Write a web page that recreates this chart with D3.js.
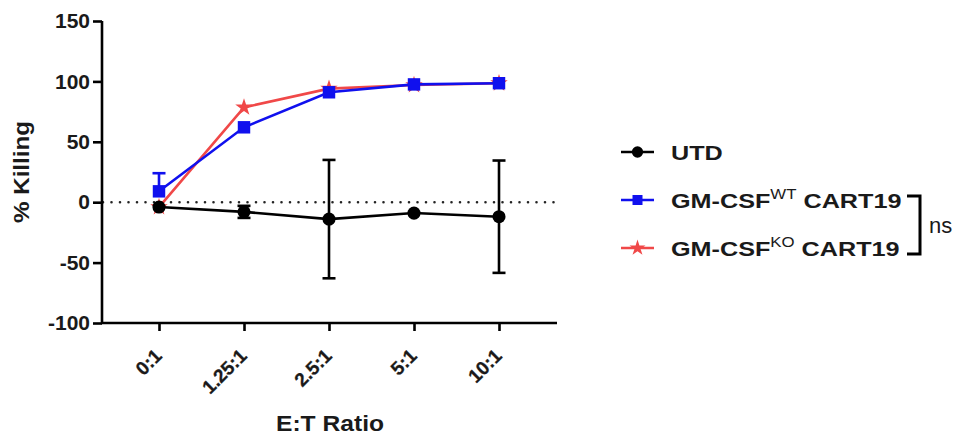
<!DOCTYPE html>
<html>
<head>
<meta charset="utf-8">
<script src="https://cdn.jsdelivr.net/npm/d3@7"></script>
<style>
body{margin:0;background:#fff;}
text{font-family:"Liberation Sans",Arial,sans-serif;}
</style>
</head>
<body>
<div id="chart"></div>
<script>
// data
var ratios = ["0:1","1.25:1","2.5:1","5:1","10:1"];
var utdMean = [-4,-8,-14,-9,-12];
var utdErr  = [2,5,49,2,46.5];
var wtMean  = [9,62,91,97.5,98.5];
var wtErr   = [15,2,2,1,1];
var koMean  = [-4,78.5,94,97,98.5];
var koErr   = [1,1,1,1,1];
var yTicks  = [-100,-50,0,50,100,150];

var W = 955, H = 437;
var svg = d3.select("#chart").append("svg")
    .attr("width", W).attr("height", H);

// scales
var x = d3.scalePoint().domain(ratios).range([159,499]);
var y = d3.scaleLinear().domain([-100,150]).range([323,21]);

// zero line (dotted)
svg.append("line")
    .attr("x1",103).attr("x2",557)
    .attr("y1",y(0)).attr("y2",y(0))
    .attr("stroke","#222").attr("stroke-width",2.6)
    .attr("stroke-linecap","round")
    .attr("stroke-dasharray","0 8.5");

// axes
var yAxis = svg.append("g")
    .attr("transform","translate(102,0)")
    .call(d3.axisLeft(y).tickValues(yTicks).tickSize(9).tickPadding(3)
        .tickFormat(function(d){ return String(d); }));
var xAxis = svg.append("g")
    .attr("transform","translate(0,323)")
    .call(d3.axisBottom(x).tickSize(8).tickFormat(""));
// x axis line spans the full plot width
xAxis.select(".domain").attr("d","M101,0H557");
yAxis.select(".domain").attr("d","M0,"+y(150)+"V"+(y(-100)+1));
svg.selectAll(".domain,.tick line")
    .attr("stroke","#000").attr("stroke-width",2.6);
yAxis.selectAll(".tick text")
    .attr("font-size",21).attr("font-weight","bold").attr("fill","#1a1a1a");

// rotated x labels
svg.selectAll(".xlab").data(ratios).enter().append("text")
    .attr("class","xlab")
    .attr("transform",function(d){ return "translate("+(x(d)+4)+",357) rotate(-45)"; })
    .attr("text-anchor","end")
    .attr("font-size",19).attr("font-weight","bold").attr("fill","#1a1a1a")
    .attr("stroke","#1a1a1a").attr("stroke-width",0.3)
    .text(function(d){ return d; });

// axis titles
svg.append("text")
    .attr("transform","translate(330,431) scale(1.12,1)")
    .attr("text-anchor","middle")
    .attr("font-size",22).attr("font-weight","bold").attr("fill","#1a1a1a")
    .text("E:T Ratio");
svg.append("text")
    .attr("transform","translate(29,172) rotate(-90) scale(1.1,1)")
    .attr("text-anchor","middle")
    .attr("font-size",22).attr("font-weight","bold").attr("fill","#1a1a1a")
    .text("% Killing");

var series = [
  {name:"ko", mean:koMean, err:koErr, color:"#f04848", sym:d3.symbolStar, size:95},
  {name:"wt", mean:wtMean, err:wtErr, color:"#1010ee", sym:d3.symbolSquare, size:155},
  {name:"utd", mean:utdMean, err:utdErr, color:"#000", sym:d3.symbolCircle, size:135}
];

var line = d3.line()
    .x(function(d,i){ return x(ratios[i]); })
    .y(function(d){ return y(d); });

series.forEach(function(s){
    var g = svg.append("g");
    // error bars
    s.mean.forEach(function(m,i){
        if (s.err[i] < 3) return;
        var cx = x(ratios[i]);
        var lo = s.name == "wt" ? m : m - s.err[i];
        g.append("line")
            .attr("x1",cx).attr("x2",cx)
            .attr("y1",y(m+s.err[i])).attr("y2",y(lo))
            .attr("stroke",s.color).attr("stroke-width",2.6);
        g.append("line")
            .attr("x1",cx-6.5).attr("x2",cx+6.5)
            .attr("y1",y(m+s.err[i])).attr("y2",y(m+s.err[i]))
            .attr("stroke",s.color).attr("stroke-width",2.6);
        if (s.name != "wt")
          g.append("line")
            .attr("x1",cx-6.5).attr("x2",cx+6.5)
            .attr("y1",y(m-s.err[i])).attr("y2",y(m-s.err[i]))
            .attr("stroke",s.color).attr("stroke-width",2.6);
    });
    g.append("path").datum(s.mean)
        .attr("d",line).attr("fill","none")
        .attr("stroke",s.color).attr("stroke-width",2.6);
    g.selectAll("path.pt").data(s.mean).enter().append("path")
        .attr("class","pt")
        .attr("transform",function(d,i){ return "translate("+x(ratios[i])+","+y(d)+")"; })
        .attr("d",d3.symbol().type(s.sym).size(s.size))
        .attr("fill",s.color);
});

// legend
var legend = [
  {label:"UTD", sup:"", color:"#000", sym:d3.symbolCircle, size:100, y:152},
  {label:"GM-CSF", sup:"WT", color:"#1010ee", sym:d3.symbolSquare, size:100, y:200},
  {label:"GM-CSF", sup:"KO", color:"#f04848", sym:d3.symbolStar, size:80, y:248}
];
var lg = svg.selectAll(".lg").data(legend).enter().append("g")
    .attr("transform",function(d){ return "translate(0,"+d.y+")"; });
lg.append("line").attr("x1",621).attr("x2",654)
    .attr("stroke",function(d){ return d.color; }).attr("stroke-width",2.6);
lg.append("path").attr("transform","translate(637.5,0)")
    .attr("d",function(d){ return d3.symbol().type(d.sym).size(d.size)(); })
    .attr("fill",function(d){ return d.color; });
var lt = lg.append("text").attr("transform","translate(671,8) scale(1.2,1)")
    .attr("font-size",21).attr("font-weight","bold").attr("fill","#1a1a1a");
lt.append("tspan").text(function(d){ return d.label; });
lt.filter(function(d){ return d.sup; }).append("tspan")
    .attr("dy",-9).attr("font-size",14).attr("font-weight","normal")
    .text(function(d){ return d.sup; });
lt.filter(function(d){ return d.sup; }).append("tspan")
    .attr("dy",9).text(" CART19");

// ns bracket
svg.append("path")
    .attr("d","M907,196H920V254H907")
    .attr("fill","none").attr("stroke","#000").attr("stroke-width",3);
svg.append("text").attr("x",929).attr("y",233)
    .attr("font-size",22).attr("fill","#1a1a1a").text("ns");
</script>
</body>
</html>
